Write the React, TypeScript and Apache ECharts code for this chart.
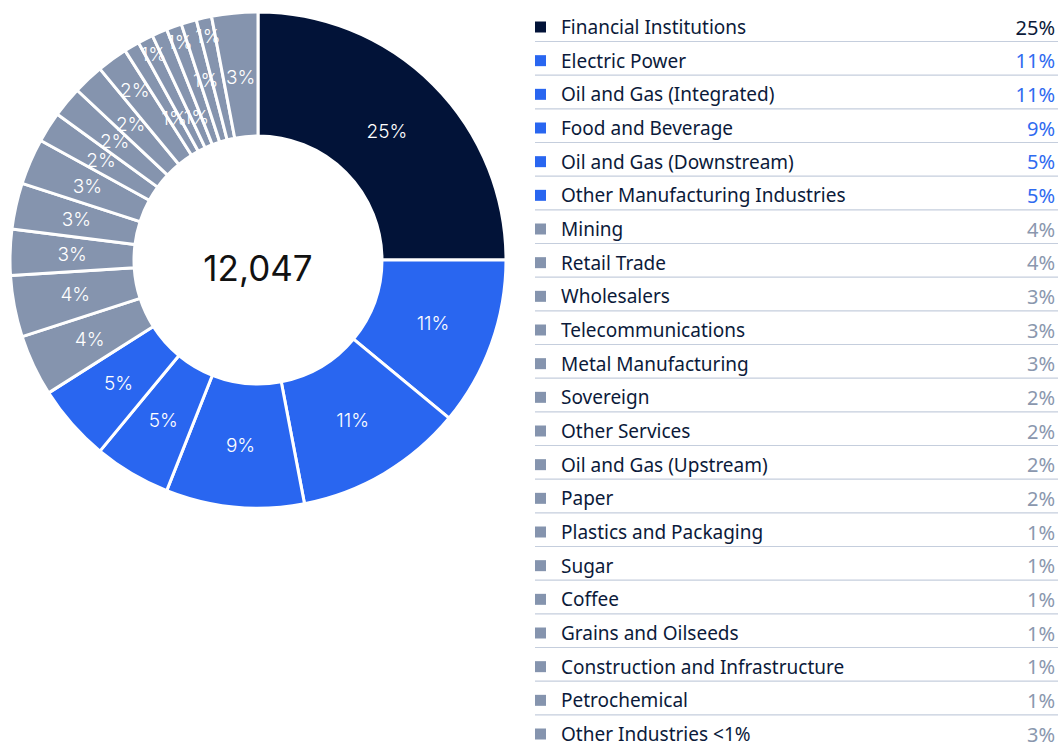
import React, { useEffect, useRef } from "react";
import * as echarts from "echarts";

const categories = [
  "Financial Institutions",
  "Electric Power",
  "Oil and Gas (Integrated)",
  "Food and Beverage",
  "Oil and Gas (Downstream)",
  "Other Manufacturing Industries",
  "Mining",
  "Retail Trade",
  "Wholesalers",
  "Telecommunications",
  "Metal Manufacturing",
  "Sovereign",
  "Other Services",
  "Oil and Gas (Upstream)",
  "Paper",
  "Plastics and Packaging",
  "Sugar",
  "Coffee",
  "Grains and Oilseeds",
  "Construction and Infrastructure",
  "Petrochemical",
  "Other Industries <1%",
];
const shares = [25, 11, 11, 9, 5, 5, 4, 4, 3, 3, 3, 2, 2, 2, 2, 1, 1, 1, 1, 1, 1, 3];
const groups = [0, 1, 1, 1, 1, 1, 2, 2, 2, 2, 2, 2, 2, 2, 2, 2, 2, 2, 2, 2, 2, 2];
const totalLabel = "12,047";

// layout: label distance from centre, as fraction of ring (0 = inner edge, 1 = outer edge)
const labelRingPos = [0.47, 0.5, 0.5, 0.5, 0.5, 0.5, 0.5, 0.5, 0.5, 0.5, 0.5, 0.5, 0.5, 0.5, 0.69, 0.33, 0.86, 0.25, 0.86, 0.51, 0.85, 0.48];

const sliceColors = ["#021338", "#2966F0", "#8594AE"];
const textColors = ["#0B1A3A", "#2F6BF0", "#8A97AE"];

export default function App() {
  const ref = useRef<HTMLDivElement>(null);
  useEffect(() => {
    document.body.style.margin = "0";
    const chart = echarts.init(ref.current!, null, { renderer: "svg" });
    const cx = 258;
    const cy = 260;
    const r0 = 124;
    const r1 = 248;
    const total = shares.reduce((a, b) => a + b, 0);
    const cum: number[] = [];
    shares.reduce((acc, v, i) => {
      cum[i] = acc + v / 2;
      return acc + v;
    }, 0);

    const rowTop = 27;
    const rowStep = (734 - 27) / 21;
    const legend: any[] = [];
    categories.forEach((c, i) => {
      const y = rowTop + i * rowStep;
      const g = groups[i];
      legend.push({
        type: "rect",
        shape: { x: 535, y: y - 5.5, width: 11, height: 11 },
        style: { fill: sliceColors[g] },
      });
      legend.push({
        type: "text",
        x: 561,
        y,
        style: {
          text: c,
          fill: "#0B1A3A",
          font: "19px 'Noto Sans'",
          lineHeight: 19,
          verticalAlign: "middle",
          align: "left",
        },
      });
      legend.push({
        type: "text",
        x: 1055,
        y,
        style: {
          text: shares[i] + "%",
          fill: textColors[g],
          font: "20px 'Noto Sans'",
          lineHeight: 20,
          verticalAlign: "middle",
          align: "right",
        },
      });
      if (i < categories.length - 1) {
        legend.push({
          type: "line",
          shape: { x1: 535, y1: y + 14.5, x2: 1058, y2: y + 14.5 },
          style: { stroke: "#C5CEDD", lineWidth: 1.2 },
        });
      }
    });
    legend.push({
      type: "text",
      x: cx,
      y: 268,
      style: {
        text: totalLabel,
        fill: "#111111",
        font: "35px Inter",
        align: "center",
        verticalAlign: "middle",
      },
    });
    chart.setOption({
      animation: false,
      graphic: legend,
      series: [
        {
          type: "pie",
          center: [cx, cy],
          radius: [r0, r1],
          startAngle: 90,
          clockwise: true,
          avoidLabelOverlap: false,
          itemStyle: { borderColor: "#ffffff", borderWidth: 3 },
          label: {
            show: true,
            position: "inside",
            formatter: "{c}%",
            color: "#ffffff",
            fontFamily: "Inter",
            fontWeight: 300,
            fontSize: 19,
            align: "center",
            verticalAlign: "middle",
          },
          labelLayout: (params: any) => {
            const i = params.dataIndex;
            const th = (cum[i] / total) * Math.PI * 2;
            const r = r0 + (r1 - r0) * labelRingPos[i];
            return {
              x: cx + r * Math.sin(th),
              y: cy - r * Math.cos(th),
              align: "center",
              verticalAlign: "middle",
              hideOverlap: false,
            };
          },
          labelLine: { show: false },
          data: categories.map((c, i) => ({
            name: c,
            value: shares[i],
            itemStyle: { color: sliceColors[groups[i]] },
          })),
        },
      ],
    });
    return () => chart.dispose();
  }, []);
  return <div ref={ref} style={{ width: 1058, height: 748 }} />;
}
